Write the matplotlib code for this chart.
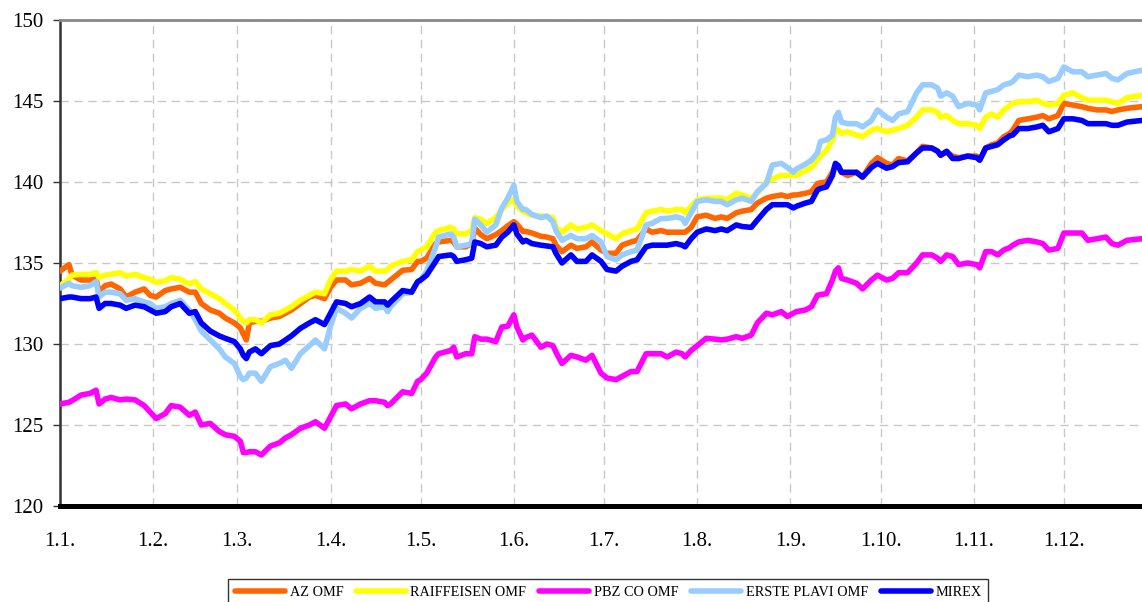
import matplotlib
matplotlib.use("Agg")
import matplotlib.pyplot as plt

# ---- data (day of year, 0 = 1 Jan) ----
days = [0, 3, 4, 7, 10, 12, 13, 15, 17, 20,
        22, 25, 28, 30, 32, 35, 37, 40, 43, 45,
        47, 50, 53, 55, 58, 60, 61, 62, 63, 65,
        67, 70, 73, 75, 77, 80, 83, 85, 88, 90,
        92, 95, 97, 100, 103, 105, 108, 109, 110, 114,
        117, 119, 120, 122, 125, 126, 130, 131, 132, 135,
        137, 138, 140, 142, 145, 147, 149, 151, 152, 154,
        155, 157, 160, 162, 164, 165, 167, 170, 172, 175,
        177, 180, 182, 185, 187, 190, 192, 195, 197, 200,
        202, 205, 207, 208, 210, 212, 215, 218, 220, 222,
        225, 227, 230, 232, 235, 237, 240, 242, 244, 245,
        248, 250, 252, 253, 255, 257, 258, 259, 260, 262,
        265, 267, 270, 272, 275, 277, 279, 282, 285, 287,
        290, 292, 293, 295, 297, 299, 302, 305, 306, 308,
        310, 312, 314, 316, 317, 319, 322, 325, 327, 329,
        332, 334, 337, 340, 342, 345, 348, 350, 352, 355,
        360]

az_omf = [134.5, 134.9, 134.25, 133.95, 133.95, 134.0, 133.2, 133.6, 133.7, 133.4,
          132.9, 133.2, 133.4, 133.0, 132.9, 133.3, 133.4, 133.5, 133.2, 133.2,
          132.5, 132.1, 131.9, 131.6, 131.3, 131.0, 130.6, 130.25, 131.3, 131.4,
          131.4, 131.6, 131.7, 131.9, 132.1, 132.5, 132.9, 133.0, 132.8, 133.5,
          133.95, 133.95, 133.65, 133.75, 134.05, 133.75, 133.65, 133.8, 133.95, 134.55,
          134.6, 135.1, 135.1, 135.3, 136.2, 136.3, 136.4, 136.3, 136.0, 136.0,
          136.2, 137.15, 136.75, 136.5, 136.75, 137.0, 137.3, 137.55, 137.4, 136.95,
          136.95, 136.85, 136.65, 136.6, 136.5, 136.1, 135.7, 136.1, 135.9, 136.0,
          136.3, 135.8, 135.6, 135.6, 136.1, 136.3, 136.4, 137.1, 136.9, 137.0,
          136.9, 136.9, 136.9, 136.9, 137.2, 137.85, 137.95, 137.75, 137.85, 137.75,
          138.1, 138.2, 138.3, 138.7, 139.0, 139.1, 139.2, 139.1, 139.2, 139.2,
          139.3, 139.4, 139.9, 139.95, 140.0, 140.6, 141.05, 140.9, 140.6, 140.4,
          140.6, 140.3, 141.15, 141.5, 141.15, 141.05, 141.45, 141.3, 141.8, 142.2,
          142.1, 141.9, 141.65, 141.85, 141.6, 141.5, 141.6, 141.6, 141.35, 142.1,
          142.3, 142.4, 142.8, 143.0, 143.2, 143.8, 143.9, 144.0, 144.1, 143.9,
          144.1, 144.85, 144.75, 144.65, 144.55, 144.45, 144.45, 144.35, 144.45, 144.55,
          144.65]

raiffeisen_omf = [133.6, 134.0, 134.25, 134.3, 134.3, 134.4, 134.1, 134.25, 134.3, 134.4,
                  134.2, 134.3, 134.1, 134.0, 133.8, 133.9, 134.1, 134.0, 133.7, 133.85,
                  133.4, 133.1, 132.8, 132.5, 132.1, 131.6, 131.4, 131.3, 131.5, 131.5,
                  131.3, 131.8, 131.9, 132.1, 132.3, 132.7, 133.0, 133.2, 133.1, 133.95,
                  134.5, 134.5, 134.6, 134.5, 134.8, 134.5, 134.5, 134.6, 134.8, 135.1,
                  135.2, 135.7, 135.8, 136.0, 136.9, 137.0, 137.2, 137.1, 136.8, 136.8,
                  137.0, 137.8, 137.7, 137.45, 137.8, 138.3, 138.7, 138.95, 138.5, 138.2,
                  138.1, 137.95, 137.9, 137.85, 137.8, 137.2, 136.9, 137.35, 137.1, 137.2,
                  137.35, 137.0, 136.8, 136.5, 136.8, 137.0, 137.1, 138.1, 138.2, 138.3,
                  138.2, 138.3, 138.3, 138.1, 138.5, 138.9, 139.0, 139.0, 139.0, 138.9,
                  139.3, 139.2, 139.0, 139.3, 140.0, 140.2, 140.4, 140.4, 140.4, 140.4,
                  140.7, 140.9, 141.35, 141.6, 141.95, 142.6, 143.3, 143.2, 143.0, 143.1,
                  142.9, 142.8, 143.2, 143.3, 143.1, 143.2, 143.3, 143.5, 144.0, 144.45,
                  144.45, 144.3, 144.0, 144.1, 143.8, 143.6, 143.6, 143.5, 143.3, 144.0,
                  144.2, 144.0, 144.45, 144.7, 144.85, 144.95, 144.95, 145.05, 144.85, 144.75,
                  144.85, 145.35, 145.5, 145.2, 145.05, 145.05, 145.05, 144.95, 144.85, 145.2,
                  145.35]

pbz_co_omf = [126.3, 126.4, 126.5, 126.85, 126.95, 127.15, 126.3, 126.6, 126.7, 126.55,
              126.6, 126.55, 126.2, 125.8, 125.4, 125.7, 126.2, 126.1, 125.6, 125.8,
              125.0, 125.1, 124.6, 124.4, 124.3, 124.0, 123.3, 123.3, 123.35, 123.35,
              123.15, 123.7, 123.9, 124.2, 124.4, 124.8, 125.0, 125.2, 124.8, 125.5,
              126.2, 126.3, 126.0, 126.3, 126.5, 126.5, 126.4, 126.2, 126.3, 127.05,
              126.95, 127.7, 127.8, 128.2, 129.2, 129.4, 129.6, 129.8, 129.2, 129.4,
              129.4, 130.45, 130.3, 130.3, 130.15, 131.05, 131.1, 131.8, 131.05, 130.25,
              130.4, 130.55, 129.8, 130.0, 129.9, 129.5, 128.8, 129.3, 129.2, 129.0,
              129.3, 128.2, 127.9, 127.8, 128.0, 128.3, 128.3, 129.4, 129.4, 129.4,
              129.2, 129.5, 129.4, 129.2, 129.6, 129.9, 130.35, 130.3, 130.25, 130.3,
              130.45, 130.35, 130.55, 131.3, 131.9, 131.8, 132.0, 131.7, 131.9, 132.0,
              132.1, 132.3, 133.0, 133.05, 133.1, 133.95, 134.5, 134.7, 134.05, 133.95,
              133.75, 133.4, 133.95, 134.25, 133.95, 134.05, 134.4, 134.4, 135.0, 135.5,
              135.5, 135.3, 135.1, 135.5, 135.4, 134.9, 135.0, 134.9, 134.7, 135.7,
              135.7, 135.5, 135.8, 135.95, 136.1, 136.3, 136.4, 136.3, 136.2, 135.8,
              135.9, 136.85, 136.85, 136.85, 136.4, 136.5, 136.6, 136.2, 136.1, 136.4,
              136.5]

erste_plavi_omf = [133.45, 133.75, 133.6, 133.5, 133.6, 133.85, 132.9, 133.2, 133.2, 133.1,
                   132.7, 132.8, 132.6, 132.5, 132.2, 132.3, 132.5, 132.7, 132.1, 131.5,
                   130.8, 130.25, 129.7, 129.2, 128.8, 128.0, 127.8, 127.9, 128.2, 128.2,
                   127.7, 128.6, 128.8, 129.0, 128.5, 129.4, 129.9, 130.25, 129.7, 131.1,
                   132.2, 131.9, 131.6, 132.2, 132.5, 132.2, 132.3, 132.0, 132.3, 133.1,
                   133.2, 133.85, 133.95, 134.5, 136.0, 136.6, 136.8, 136.6, 136.0, 136.1,
                   136.2, 137.7, 137.35, 136.9, 137.35, 138.4, 139.0, 139.8, 138.8, 138.3,
                   138.3, 138.0, 137.8, 137.9, 137.55, 137.0, 136.4, 136.7, 136.5, 136.5,
                   136.7, 136.3, 135.4, 135.2, 135.5, 135.7, 135.8, 137.35, 137.45, 137.75,
                   137.75, 137.85, 137.75, 137.45, 138.1, 138.8, 138.9, 138.8, 138.8, 138.6,
                   138.9, 139.0, 138.8, 139.4, 139.9, 141.05, 141.15, 140.9, 140.6, 140.8,
                   141.1, 141.35, 141.8, 142.5, 142.6, 142.9, 144.0, 144.3, 143.7, 143.6,
                   143.6, 143.4, 143.8, 144.45, 144.0, 143.8, 144.2, 144.35, 145.5, 146.0,
                   146.0, 145.8, 145.3, 145.5, 145.3, 144.65, 144.85, 144.75, 144.45, 145.5,
                   145.6, 145.7, 146.0, 146.1, 146.2, 146.6, 146.5, 146.6, 146.5, 146.2,
                   146.4, 147.1, 146.8, 146.8, 146.5, 146.6, 146.7, 146.4, 146.3, 146.7,
                   146.9]

mirex = [132.8, 132.9, 132.9, 132.8, 132.8, 132.9, 132.2, 132.5, 132.5, 132.4,
         132.2, 132.4, 132.3, 132.1, 131.9, 132.0, 132.3, 132.5, 131.9, 132.0,
         131.3, 130.8, 130.5, 130.35, 130.15, 129.7, 129.3, 129.1, 129.5, 129.7,
         129.4, 129.9, 130.0, 130.25, 130.5, 130.97, 131.3, 131.5, 131.2, 131.9,
         132.6, 132.5, 132.3, 132.5, 132.9, 132.6, 132.6, 132.4, 132.6, 133.3,
         133.2, 133.85, 133.95, 134.25, 135.1, 135.4, 135.5, 135.4, 135.1, 135.2,
         135.3, 136.3, 136.2, 136.0, 136.1, 136.6, 136.9, 137.35, 136.8, 136.3,
         136.4, 136.2, 136.1, 136.05, 136.0, 135.6, 135.0, 135.5, 135.1, 135.1,
         135.5, 135.1, 134.6, 134.5, 134.8, 135.1, 135.2, 136.0, 136.1, 136.1,
         136.1, 136.2, 136.1, 136.0, 136.5, 136.9, 137.1, 137.0, 137.1, 137.0,
         137.35, 137.25, 137.2, 137.65, 138.3, 138.6, 138.6, 138.6, 138.4, 138.5,
         138.7, 138.8, 139.5, 139.6, 139.7, 140.4, 141.15, 141.0, 140.6, 140.6,
         140.6, 140.3, 140.9, 141.15, 140.85, 140.95, 141.2, 141.25, 141.8, 142.1,
         142.1, 141.9, 141.65, 141.9, 141.45, 141.45, 141.6, 141.5, 141.35, 142.1,
         142.2, 142.3, 142.6, 142.85, 142.9, 143.3, 143.3, 143.4, 143.5, 143.1,
         143.3, 143.9, 143.9, 143.8, 143.6, 143.6, 143.6, 143.5, 143.5, 143.7,
         143.8]

series_names = ["AZ OMF", "RAIFFEISEN OMF", "PBZ CO OMF", "ERSTE PLAVI OMF", "MIREX"]
series_values = [az_omf, raiffeisen_omf, pbz_co_omf, erste_plavi_omf, mirex]
series_colors = ["#FF6600", "#FFFF00", "#FF00FF", "#99CCFF", "#0000FF"]

month_ticks = [0, 31, 59, 90, 120, 151, 181, 212, 243, 273, 304, 334]
month_labels = ["1.1.", "1.2.", "1.3.", "1.4.", "1.5.", "1.6.",
                "1.7.", "1.8.", "1.9.", "1.10.", "1.11.", "1.12."]
y_ticks = [120, 125, 130, 135, 140, 145, 150]

# ---- figure ----
W, H = 1142, 602
fig = plt.figure(figsize=(W / 100, H / 100), dpi=100)
ax = fig.add_axes([60 / W, 1 - 506 / H, 1 - 60 / W, (506 - 20) / H])

serif = ["Liberation Serif", "DejaVu Serif"]

for name, vals, col in zip(series_names, series_values, series_colors):
    ax.plot(days, vals, color=col, lw=4.0, label=name,
            solid_joinstyle="round", solid_capstyle="round", zorder=3)

ax.set_xlim(0, 360)
ax.set_ylim(120, 150)
ax.set_xticks(month_ticks)
ax.set_xticklabels(month_labels, family=serif, fontsize=15)
ax.set_yticks(y_ticks)
ax.set_yticklabels([str(v) for v in y_ticks], family=serif, fontsize=15)

ax.tick_params(axis="x", length=0, pad=19)
ax.tick_params(axis="y", length=5, width=1, color="#333333", pad=7, direction="out")

ax.grid(True, color="#C8C8C8", lw=1, linestyle=(0, (6, 4)), zorder=0)
ax.set_axisbelow(True)

ax.spines["right"].set_visible(False)
ax.spines["top"].set_color("#888888")
ax.spines["top"].set_linewidth(2)
ax.spines["left"].set_color("#333333")
ax.spines["left"].set_linewidth(1.8)
ax.spines["bottom"].set_color("black")
ax.spines["bottom"].set_linewidth(3.6)
ax.spines["bottom"].set_zorder(5)

leg = fig.legend(loc="upper left", bbox_to_anchor=(228 / W, 1 - 579 / H),
                 ncol=5, frameon=True, fancybox=False, borderaxespad=0,
                 prop={"family": serif, "size": 10.3},
                 handlelength=3.5, handletextpad=0.3, columnspacing=0.9,
                 borderpad=0.5)
leg.get_frame().set_edgecolor("black")
leg.get_frame().set_linewidth(1)
for line in leg.get_lines():
    line.set_linewidth(4)

fig.savefig("out.png", dpi=100)
